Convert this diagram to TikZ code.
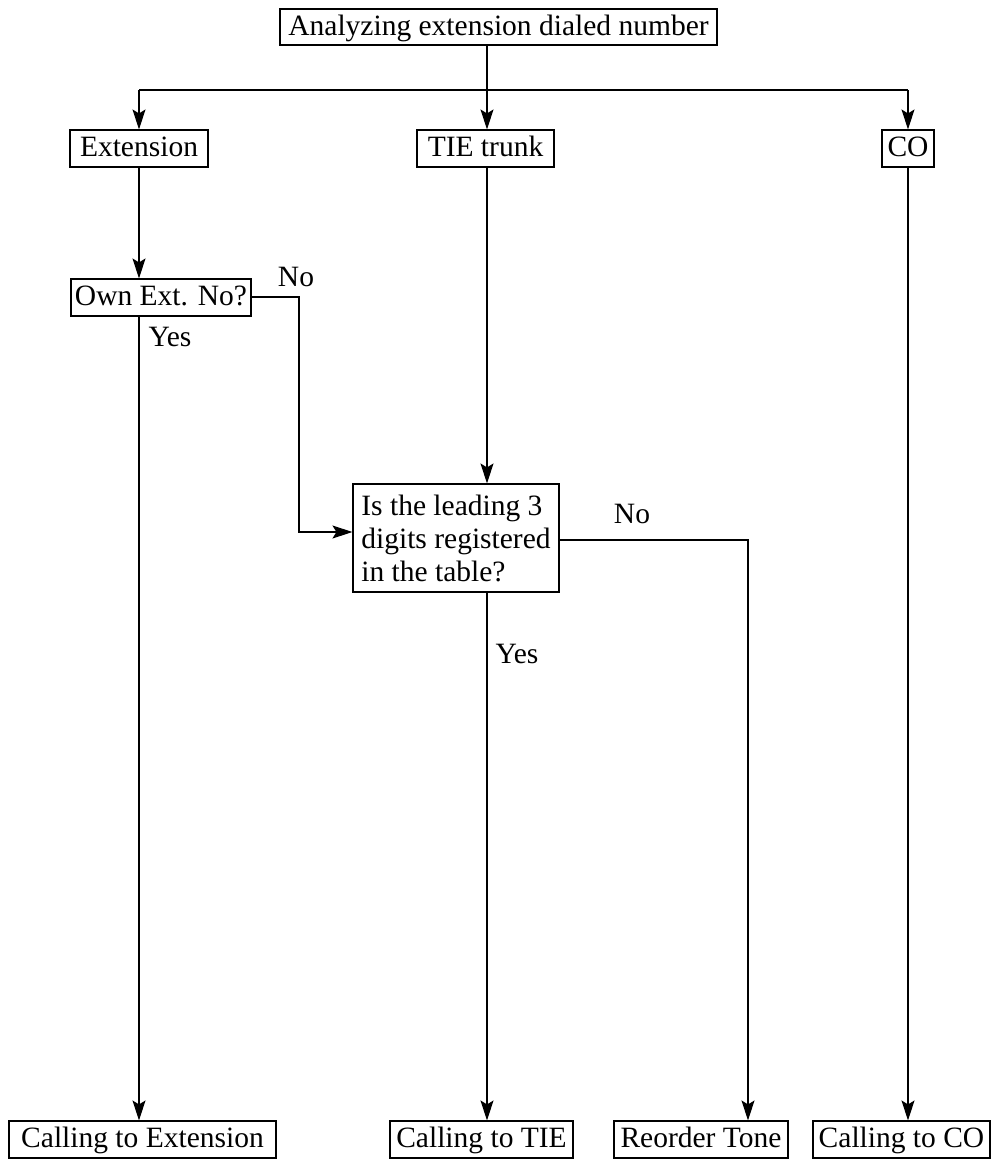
\documentclass[tikz,border=0pt]{standalone}
\usepackage{fontspec}
\setmainfont{Liberation Serif}
\usetikzlibrary{arrows.meta}
\begin{document}
\begin{tikzpicture}[x=1pt,y=-1pt,
  basebox/.style={draw,line width=1.1pt,inner sep=0pt,minimum height=37pt,font=\fontsize{29.5}{33}\selectfont},
  box/.style={basebox,text height=22pt,text depth=5.5pt},
  lbl/.style={inner sep=0pt,font=\fontsize{29.5}{33}\selectfont},
  conn/.style={line width=1.2pt},
  arr/.style={conn,-{Stealth[length=20pt,width=13pt,inset=4pt]}}]
\useasboundingbox (0,0) rectangle (1002,1159);
\node[box,minimum width=437pt,minimum height=36pt] (top) at (498.5,27) {Analyzing extension dialed number};
\node[box,minimum width=138pt] (ext) at (139,148.5) {Extension};
\node[box,minimum width=137pt] (tie) at (485.5,148.5) {TIE trunk};
\node[box,minimum width=52pt] (co) at (908,148.5) {CO};
\node[box,minimum width=180pt] (own) at (161,297.5) {Own Ext. No?};
\node[basebox,minimum width=206pt,minimum height=108pt,align=left] (is) at (456,538) {Is the leading 3\\digits registered\\in the table?};
\node[box,minimum width=267pt] (cext) at (142.5,1139.5) {Calling to Extension};
\node[box,minimum width=183pt] (ctie) at (481.5,1139.5) {Calling to TIE};
\node[box,minimum width=174pt] (rt) at (701,1139.5) {Reorder Tone};
\node[box,minimum width=177pt] (cco) at (901.5,1139.5) {Calling to CO};
\node[lbl] (no1) at (296,277) {No};
\node[lbl] (yes1) at (170,337) {Yes};
\node[lbl] (no2) at (632,514) {No};
\node[lbl] (yes2) at (517,654) {Yes};
\coordinate (bm) at (487,90);
\coordinate (bl) at (139,90);
\coordinate (br) at (908,90);
\coordinate (c1) at (299,297);
\coordinate (c2) at (299,532);
\coordinate (c3) at (748,540);
\draw[conn] (top.south -| bm) -- (bm);
\draw[conn] (bl) -- (br);
\draw[arr] (bl) -- (bl |- ext.north);
\draw[arr] (bm) -- (bm |- tie.north);
\draw[arr] (br) -- (br |- co.north);
\draw[arr] (bl |- ext.south) -- (bl |- own.north);
\draw[arr] (bl |- own.south) -- (bl |- cext.north);
\draw[arr] (own.east |- c1) -- (c1) -- (c2) -- (c2 -| is.west);
\draw[arr] (bm |- tie.south) -- (bm |- is.north);
\draw[arr] (bm |- is.south) -- (bm |- ctie.north);
\draw[arr] (is.east |- c3) -- (c3) -- (c3 |- rt.north);
\draw[arr] (br |- co.south) -- (br |- cco.north);
\end{tikzpicture}
\end{document}
